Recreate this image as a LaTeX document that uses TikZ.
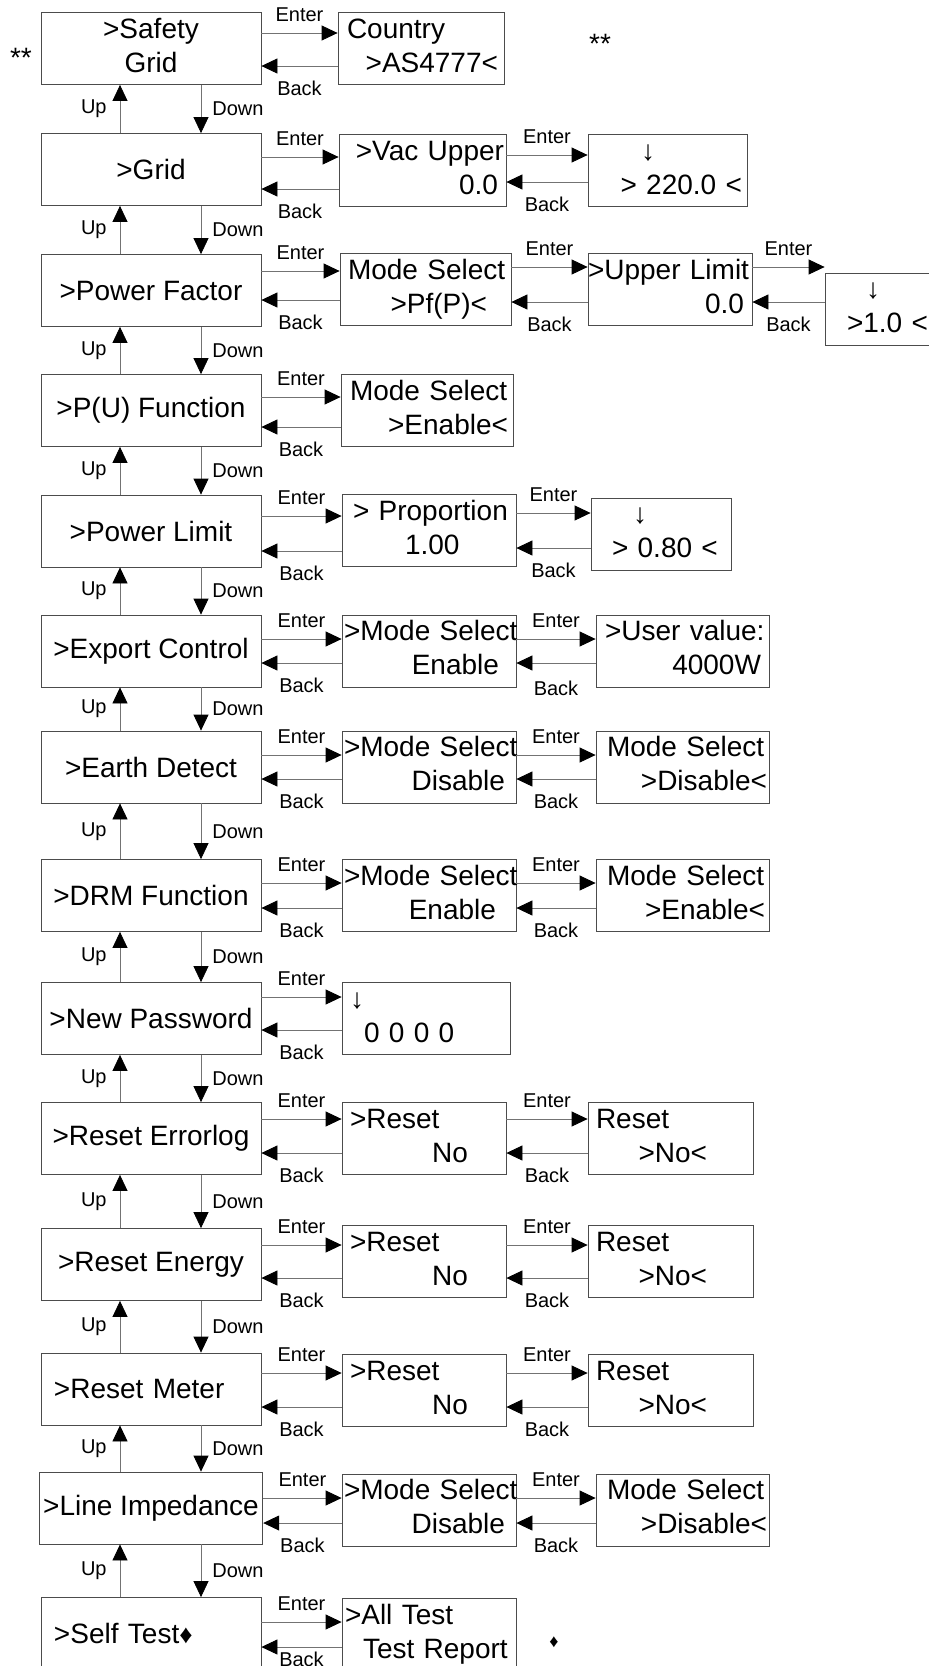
\documentclass[tikz,border=0pt]{standalone}
\usepackage{fontspec}
\setmainfont{Liberation Sans}
\usetikzlibrary{arrows.meta, positioning}
\newcommand{\boxfont}{\fontsize{28}{34}\selectfont}
\newcommand{\keyfont}{\fontsize{20}{24}\selectfont}

\begin{document}
\begin{tikzpicture}[x=1pt, y=-1pt,
      menu/.style={draw=black!70, line width=0.8pt, minimum width=220pt,
                   minimum height=72pt, inner xsep=4pt, inner ysep=0pt, font=\boxfont},
      sub/.style={draw=black!70, line width=0.8pt, minimum height=72pt,
                  inner xsep=2pt, inner ysep=0pt, align=left, font=\boxfont,
                  execute at begin node=\strut, execute at end node=\strut},
      key/.style={font=\keyfont, inner sep=0pt},
      nav/.style={draw=black!55, line width=0.8pt,
                  -{Triangle[length=16pt, width=15pt, color=black]}},
    ]
    \useasboundingbox (0,0) rectangle (929,1666);

    % main menu column
    \node[menu, text width=212pt, align=center] (sg) at (151,48.5) {\strut>Safety\\\strut Grid};
    \node[menu] (gd)  at (151,169.5)  {>Grid};
    \node[menu] (pf)  at (151,290.5)  {>Power Factor};
    \node[menu] (pu)  at (151,410.5)  {>P(U) Function};
    \node[menu] (pl)  at (151,531)    {>Power Limit};
    \node[menu] (ec)  at (151,651)    {>Export Control};
    \node[menu] (ed)  at (151,767)    {>Earth Detect};
    \node[menu] (drm) at (151,895.5)  {>DRM Function};
    \node[menu] (npw) at (151,1018.5) {>New Password};
    \node[menu] (rel) at (151,1138.5) {>Reset Errorlog};
    \node[menu] (ren) at (151,1264.5) {>Reset Energy};
    \node[menu, text width=212pt, align=left] (rme) at (151,1389) {\hspace*{9pt}>Reset Meter};
    \node[menu] (li)  at (151,1508)   {>Line Impedance};
    \node[menu, text width=212pt, align=left] (st) at (151,1633.5)
      {\hspace*{9pt}>Self Test{\fontsize{26}{30}\selectfont ♦}};

    % sub menus
    \node[sub, text width=162pt] (ct) at (421,48.5)
      {\hspace*{7pt}Country\\\hspace*{\fill}>AS4777<\hspace*{4pt}};
    \node[sub, text width=163pt, align=right] (vu) at (422.5,170.5)
      {\mbox{>Vac Upper}\\0.0\hspace*{6pt}};
    \node[sub, text width=155pt] (vuv) at (667.5,170.5)
      {\hspace*{51pt}↓\\\hspace*{\fill}> 220.0 <\hspace*{3pt}};
    \node[sub, text width=167pt] (pfms) at (425.5,289.5)
      {\hspace*{6pt}\mbox{Mode Select}\\\hspace*{\fill}>Pf(P)<\hspace*{22pt}};
    \node[sub, text width=160pt] (ul) at (670,289.5)
      {\hspace*{-2pt}\mbox{>Upper Limit}\\\hspace*{\fill}0.0\hspace*{6pt}};
    \node[sub, text width=106pt] (ulv) at (880,309)
      {\hspace*{39pt}↓\\\hspace*{20pt}>1.0 <};
    \node[sub, text width=168pt] (pums) at (427,410.5)
      {\hspace*{7pt}\mbox{Mode Select}\\\hspace*{\fill}>Enable<\hspace*{3pt}};
    \node[sub, text width=170pt] (pr) at (429,530.5)
      {\hspace*{9pt}\mbox{> Proportion}\\\hspace*{61pt}1.00};
    \node[sub, text width=136pt] (prv) at (661,534)
      {\hspace*{40pt}↓\\\hspace*{19pt}> 0.80 <};
    \node[sub, text width=170pt] (ecms) at (429,651)
      {\mbox{>Mode Select}\\\hspace*{\fill}Enable\hspace*{15pt}};
    \node[sub, text width=169pt] (ecv) at (682.5,651)
      {\hspace*{7pt}\mbox{>User value:}\\\hspace*{\fill}4000W\hspace*{6pt}};
    \node[sub, text width=170pt] (edms) at (429,767)
      {\mbox{>Mode Select}\\\hspace*{\fill}Disable\hspace*{9pt}};
    \node[sub, text width=169pt] (edv) at (682.5,767)
      {\hspace*{9pt}\mbox{Mode Select}\\\hspace*{\fill}>Disable<};
    \node[sub, text width=170pt] (drms) at (429,895.5)
      {\mbox{>Mode Select}\\\hspace*{\fill}Enable\hspace*{18pt}};
    \node[sub, text width=169pt] (drmv) at (682.5,895.5)
      {\hspace*{9pt}\mbox{Mode Select}\\\hspace*{\fill}>Enable<\hspace*{2pt}};
    \node[sub, text width=164pt] (pw) at (426,1018.5)
      {\hspace*{6pt}↓\\\hspace*{20pt}0 0 0 0};
    \node[sub, text width=160pt] (rels) at (424,1138.5)
      {\hspace*{6pt}>Reset\\\hspace*{\fill}No\hspace*{36pt}};
    \node[sub, text width=161pt] (relv) at (670.5,1138.5)
      {\hspace*{6pt}Reset\\\hspace*{\fill}>No<\hspace*{44pt}};
    \node[sub, text width=160pt] (rens) at (424,1261.5)
      {\hspace*{6pt}>Reset\\\hspace*{\fill}No\hspace*{36pt}};
    \node[sub, text width=161pt] (renv) at (670.5,1261.5)
      {\hspace*{6pt}Reset\\\hspace*{\fill}>No<\hspace*{44pt}};
    \node[sub, text width=160pt] (rmes) at (424,1390.5)
      {\hspace*{6pt}>Reset\\\hspace*{\fill}No\hspace*{36pt}};
    \node[sub, text width=161pt] (rmev) at (670.5,1390.5)
      {\hspace*{6pt}Reset\\\hspace*{\fill}>No<\hspace*{44pt}};
    \node[sub, text width=170pt] (lims) at (429,1510)
      {\mbox{>Mode Select}\\\hspace*{\fill}Disable\hspace*{9pt}};
    \node[sub, text width=169pt] (liv) at (682.5,1510)
      {\hspace*{9pt}\mbox{Mode Select}\\\hspace*{\fill}>Disable<};
    \node[sub, text width=170pt] (at) at (429,1634.5)
      {\hspace*{1pt}>All Test\\\hspace*{19pt}\mbox{Test Report}};

    % footnote marks
    \node[font=\boxfont, inner sep=0pt] (mk1) at (21,58) {**};
    \node[font=\boxfont, inner sep=0pt] (mk2) at (600,44) {**};
    \node[font=\fontsize{18}{20}\selectfont, inner sep=0pt] (mk3) at (554,1642) {♦};

    % up / down
    \draw[nav] ([xshift=50pt]sg.south) -- node[key, right=11pt] {Down} ([xshift=50pt]gd.north);
    \draw[nav] ([xshift=-31pt]gd.north) -- node[key, left=13pt] {Up} ([xshift=-31pt]sg.south);
    \draw[nav] ([xshift=50pt]gd.south) -- node[key, right=11pt] {Down} ([xshift=50pt]pf.north);
    \draw[nav] ([xshift=-31pt]pf.north) -- node[key, left=13pt] {Up} ([xshift=-31pt]gd.south);
    \draw[nav] ([xshift=50pt]pf.south) -- node[key, right=11pt] {Down} ([xshift=50pt]pu.north);
    \draw[nav] ([xshift=-31pt]pu.north) -- node[key, left=13pt] {Up} ([xshift=-31pt]pf.south);
    \draw[nav] ([xshift=50pt]pu.south) -- node[key, right=11pt] {Down} ([xshift=50pt]pl.north);
    \draw[nav] ([xshift=-31pt]pl.north) -- node[key, left=13pt] {Up} ([xshift=-31pt]pu.south);
    \draw[nav] ([xshift=50pt]pl.south) -- node[key, right=11pt] {Down} ([xshift=50pt]ec.north);
    \draw[nav] ([xshift=-31pt]ec.north) -- node[key, left=13pt] {Up} ([xshift=-31pt]pl.south);
    \draw[nav] ([xshift=50pt]ec.south) -- node[key, right=11pt] {Down} ([xshift=50pt]ed.north);
    \draw[nav] ([xshift=-31pt]ed.north) -- node[key, left=13pt] {Up} ([xshift=-31pt]ec.south);
    \draw[nav] ([xshift=50pt]ed.south) -- node[key, right=11pt] {Down} ([xshift=50pt]drm.north);
    \draw[nav] ([xshift=-31pt]drm.north) -- node[key, left=13pt] {Up} ([xshift=-31pt]ed.south);
    \draw[nav] ([xshift=50pt]drm.south) -- node[key, right=11pt] {Down} ([xshift=50pt]npw.north);
    \draw[nav] ([xshift=-31pt]npw.north) -- node[key, left=13pt] {Up} ([xshift=-31pt]drm.south);
    \draw[nav] ([xshift=50pt]npw.south) -- node[key, right=11pt] {Down} ([xshift=50pt]rel.north);
    \draw[nav] ([xshift=-31pt]rel.north) -- node[key, left=13pt] {Up} ([xshift=-31pt]npw.south);
    \draw[nav] ([xshift=50pt]rel.south) -- node[key, right=11pt] {Down} ([xshift=50pt]ren.north);
    \draw[nav] ([xshift=-31pt]ren.north) -- node[key, left=13pt] {Up} ([xshift=-31pt]rel.south);
    \draw[nav] ([xshift=50pt]ren.south) -- node[key, right=11pt] {Down} ([xshift=50pt]rme.north);
    \draw[nav] ([xshift=-31pt]rme.north) -- node[key, left=13pt] {Up} ([xshift=-31pt]ren.south);
    \draw[nav] ([xshift=50pt]rme.south) -- node[key, right=11pt] {Down} ([xshift=50pt]li.north);
    \draw[nav] ([xshift=-31pt]li.north) -- node[key, left=13pt] {Up} ([xshift=-31pt]rme.south);
    \draw[nav] ([xshift=50pt]li.south) -- node[key, right=11pt] {Down} ([xshift=50pt]st.north);
    \draw[nav] ([xshift=-31pt]st.north) -- node[key, left=13pt] {Up} ([xshift=-31pt]li.south);

    % enter / back
    \draw[nav] (sg.east |- 0,33) -- node[key, above=11pt] {Enter} (ct.west |- 0,33);
    \draw[nav] (ct.west |- 0,66) -- node[key, below=15pt] {Back} (sg.east |- 0,66);
    \draw[nav] (gd.east |- 0,157) -- node[key, above=11pt] {Enter} (vu.west |- 0,157);
    \draw[nav] (vu.west |- 0,189) -- node[key, below=15pt] {Back} (gd.east |- 0,189);
    \draw[nav] (vu.east |- 0,155) -- node[key, above=11pt] {Enter} (vuv.west |- 0,155);
    \draw[nav] (vuv.west |- 0,182) -- node[key, below=15pt] {Back} (vu.east |- 0,182);
    \draw[nav] (pf.east |- 0,271) -- node[key, above=11pt] {Enter} (pfms.west |- 0,271);
    \draw[nav] (pfms.west |- 0,300) -- node[key, below=15pt] {Back} (pf.east |- 0,300);
    \draw[nav] (pfms.east |- 0,267) -- node[key, above=11pt] {Enter} (ul.west |- 0,267);
    \draw[nav] (ul.west |- 0,302) -- node[key, below=15pt] {Back} (pfms.east |- 0,302);
    \draw[nav] (ul.east |- 0,267) -- node[key, above=11pt] {Enter} (ulv.west |- 0,267);
    \draw[nav] (ulv.west |- 0,302) -- node[key, below=15pt] {Back} (ul.east |- 0,302);
    \draw[nav] (pu.east |- 0,397) -- node[key, above=11pt] {Enter} (pums.west |- 0,397);
    \draw[nav] (pums.west |- 0,427) -- node[key, below=15pt] {Back} (pu.east |- 0,427);
    \draw[nav] (pl.east |- 0,516) -- node[key, above=11pt] {Enter} (pr.west |- 0,516);
    \draw[nav] (pr.west |- 0,551) -- node[key, below=15pt] {Back} (pl.east |- 0,551);
    \draw[nav] (pr.east |- 0,513) -- node[key, above=11pt] {Enter} (prv.west |- 0,513);
    \draw[nav] (prv.west |- 0,548) -- node[key, below=15pt] {Back} (pr.east |- 0,548);
    \draw[nav] (ec.east |- 0,639) -- node[key, above=11pt] {Enter} (ecms.west |- 0,639);
    \draw[nav] (ecms.west |- 0,663) -- node[key, below=15pt] {Back} (ec.east |- 0,663);
    \draw[nav] (ecms.east |- 0,639) -- node[key, above=11pt] {Enter} (ecv.west |- 0,639);
    \draw[nav] (ecv.west |- 0,663) -- node[key, below=18pt] {Back} (ecms.east |- 0,663);
    \draw[nav] (ed.east |- 0,755) -- node[key, above=11pt] {Enter} (edms.west |- 0,755);
    \draw[nav] (edms.west |- 0,779) -- node[key, below=15pt] {Back} (ed.east |- 0,779);
    \draw[nav] (edms.east |- 0,755) -- node[key, above=11pt] {Enter} (edv.west |- 0,755);
    \draw[nav] (edv.west |- 0,779) -- node[key, below=15pt] {Back} (edms.east |- 0,779);
    \draw[nav] (drm.east |- 0,883) -- node[key, above=11pt] {Enter} (drms.west |- 0,883);
    \draw[nav] (drms.west |- 0,908) -- node[key, below=15pt] {Back} (drm.east |- 0,908);
    \draw[nav] (drms.east |- 0,883) -- node[key, above=11pt] {Enter} (drmv.west |- 0,883);
    \draw[nav] (drmv.west |- 0,908) -- node[key, below=15pt] {Back} (drms.east |- 0,908);
    \draw[nav] (npw.east |- 0,997) -- node[key, above=11pt] {Enter} (pw.west |- 0,997);
    \draw[nav] (pw.west |- 0,1030) -- node[key, below=15pt] {Back} (npw.east |- 0,1030);
    \draw[nav] (rel.east |- 0,1119) -- node[key, above=11pt] {Enter} (rels.west |- 0,1119);
    \draw[nav] (rels.west |- 0,1153) -- node[key, below=15pt] {Back} (rel.east |- 0,1153);
    \draw[nav] (rels.east |- 0,1119) -- node[key, above=11pt] {Enter} (relv.west |- 0,1119);
    \draw[nav] (relv.west |- 0,1153) -- node[key, below=15pt] {Back} (rels.east |- 0,1153);
    \draw[nav] (ren.east |- 0,1245) -- node[key, above=11pt] {Enter} (rens.west |- 0,1245);
    \draw[nav] (rens.west |- 0,1278) -- node[key, below=15pt] {Back} (ren.east |- 0,1278);
    \draw[nav] (rens.east |- 0,1245) -- node[key, above=11pt] {Enter} (renv.west |- 0,1245);
    \draw[nav] (renv.west |- 0,1278) -- node[key, below=15pt] {Back} (rens.east |- 0,1278);
    \draw[nav] (rme.east |- 0,1373) -- node[key, above=11pt] {Enter} (rmes.west |- 0,1373);
    \draw[nav] (rmes.west |- 0,1407) -- node[key, below=15pt] {Back} (rme.east |- 0,1407);
    \draw[nav] (rmes.east |- 0,1373) -- node[key, above=11pt] {Enter} (rmev.west |- 0,1373);
    \draw[nav] (rmev.west |- 0,1407) -- node[key, below=15pt] {Back} (rmes.east |- 0,1407);
    \draw[nav] (li.east |- 0,1498) -- node[key, above=11pt] {Enter} (lims.west |- 0,1498);
    \draw[nav] (lims.west |- 0,1523) -- node[key, below=15pt] {Back} (li.east |- 0,1523);
    \draw[nav] (lims.east |- 0,1498) -- node[key, above=11pt] {Enter} (liv.west |- 0,1498);
    \draw[nav] (liv.west |- 0,1523) -- node[key, below=15pt] {Back} (lims.east |- 0,1523);
    \draw[nav] (st.east |- 0,1622) -- node[key, above=11pt] {Enter} (at.west |- 0,1622);
    \draw[nav] (at.west |- 0,1647) -- node[key, below=5pt] {Back} (st.east |- 0,1647);
  \end{tikzpicture}
\end{document}
